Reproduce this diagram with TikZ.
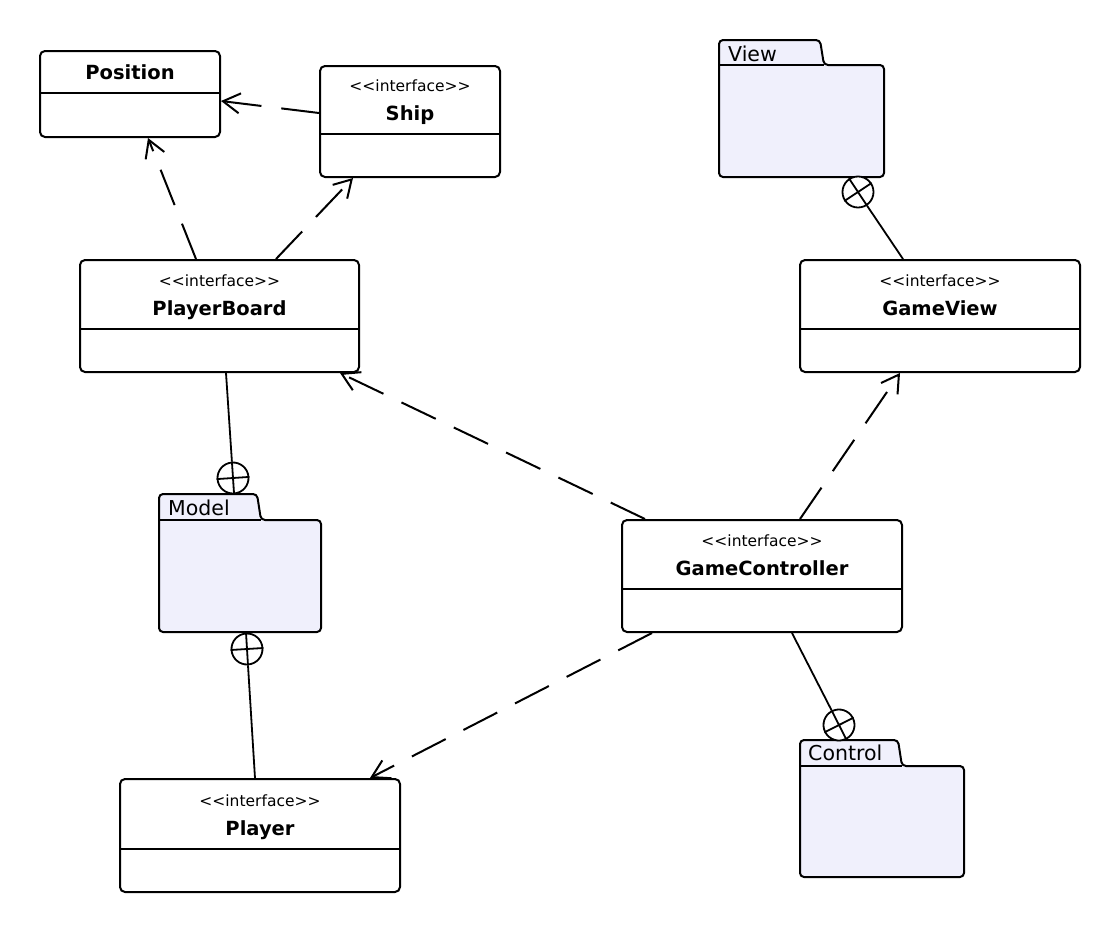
\documentclass[tikz,border=0pt]{standalone}
\usepackage{fontspec}
\setmainfont{DejaVu Sans}
\usetikzlibrary{arrows.meta}
\definecolor{pkgfill}{RGB}{240,240,252}
\newcommand{\umlpackage}[7]{%
  % #1 L, #2 T, #3 R, #4 B, #5 tab right, #6 body top, #7 name
  \filldraw[pkgshape] (#1,#4) -- (#1,#2) -- (#5,#2) -- ({#5+4},#6) -- (#3,#6) -- (#3,#4) -- cycle;
  \draw[lw] (#1,#6) -- ({#5+4},#6);
}
\begin{document}
\begin{tikzpicture}[x=1pt,y=-1pt,
  lw/.style={line width=2pt},
  cls/.style={draw, line width=2pt, rounded corners=5pt, fill=white, inner sep=0pt},
  stereo/.style={font=\fontsize{15.5}{18}\selectfont, inner sep=0pt, text height=11pt, text depth=0pt},
  cname/.style={font=\fontsize{19.5}{23}\selectfont\bfseries, inner sep=0pt, text height=14pt, text depth=0pt},
  pkgshape/.style={line width=2pt, rounded corners=4pt, fill=pkgfill},
  pkglabel/.style={font=\fontsize{20.5}{24}\selectfont, inner sep=0pt, text height=15pt, text depth=0pt, anchor=west},
  xcirc/.style={circle, draw, line width=1.8pt, minimum size=31pt, inner sep=0pt, fill=white},
  dep/.style={line width=2pt, dash pattern=on 38pt off 20pt, -{Straight Barb[length=17pt,width=20pt]}},
  nest/.style={line width=1.8pt}
]
\useasboundingbox (0,0) rectangle (1120,932);

% ---------- packages ----------
\umlpackage{719}{40}{884}{177}{820}{65}{View}
\node[pkglabel] (viewlbl) at (728,54) {View};
\umlpackage{159}{494}{321}{632}{257}{520}{Model}
\node[pkglabel] (modellbl) at (168,508) {Model};
\umlpackage{800}{740}{964}{877}{898}{766}{Control}
\node[pkglabel] (controllbl) at (808,753) {Control};

% ---------- classes ----------
% Position
\node[cls, minimum width=180pt, minimum height=86pt] (pos) at (130,94) {};
\draw[lw] (pos.west |- 0,93) -- (pos.east |- 0,93);
\node[cname] (posname) at (130,72) {Position};

% Ship
\node[cls, minimum width=180pt, minimum height=111pt] (ship) at (410,121.5) {};
\draw[lw] (ship.west |- 0,134) -- (ship.east |- 0,134);
\node[stereo] (shipst) at (410,86) {<{}<interface>{}>};
\node[cname] (shipname) at (410,113) {Ship};

% PlayerBoard
\node[cls, minimum width=279pt, minimum height=112pt] (pb) at (219.5,316) {};
\draw[lw] (pb.west |- 0,329) -- (pb.east |- 0,329);
\node[stereo] (pbst) at (219.5,281) {<{}<interface>{}>};
\node[cname] (pbname) at (219.5,308) {PlayerBoard};

% GameView
\node[cls, minimum width=280pt, minimum height=112pt] (gv) at (940,316) {};
\draw[lw] (gv.west |- 0,329) -- (gv.east |- 0,329);
\node[stereo] (gvst) at (940,281) {<{}<interface>{}>};
\node[cname] (gvname) at (940,308) {GameView};

% GameController
\node[cls, minimum width=280pt, minimum height=112pt] (gc) at (762,576) {};
\draw[lw] (gc.west |- 0,589) -- (gc.east |- 0,589);
\node[stereo] (gcst) at (762,541) {<{}<interface>{}>};
\node[cname] (gcname) at (762,568) {GameController};

% Player
\node[cls, minimum width=280pt, minimum height=113pt] (pl) at (260,835.5) {};
\draw[lw] (pl.west |- 0,849) -- (pl.east |- 0,849);
\node[stereo] (plst) at (260,801) {<{}<interface>{}>};
\node[cname] (plname) at (260,828) {Player};

% ---------- nesting circles ----------
\node[xcirc, rotate=-56.5] (cv) at (858,192) {};
\node[xcirc, rotate=93.8] (cm1) at (233,478) {};
\node[xcirc, rotate=-86.5] (cm2) at (247,649) {};
\node[xcirc, rotate=116.8] (cc) at (839,725) {};
\foreach \c in {cv,cm1,cm2,cc}{
  \draw[nest] (\c.north) -- (\c.south) (\c.east) -- (\c.west);
}
\draw[nest] (903,0 |- gv.north) -- (cv.east);
\draw[nest] (226,0 |- pb.south) -- (cm1.east);
\draw[nest] (255,0 |- pl.north) -- (cm2.east);
\draw[nest] (792,0 |- gc.south) -- (cc.east);

% ---------- dependencies ----------
\draw[dep] (ship.west |- 0,113) -- (pos.east |- 0,101);
\draw[dep] (196,0 |- pb.north) -- (148,0 |- pos.south);
\draw[dep] (276,0 |- pb.north) -- (353,0 |- ship.south);
\draw[dep] (645,0 |- gc.north) -- (340,0 |- pb.south);
\draw[dep] (800,0 |- gc.north) -- (900,0 |- gv.south);
\draw[dep] (652,0 |- gc.south) -- (370,0 |- pl.north);
\end{tikzpicture}
\end{document}
